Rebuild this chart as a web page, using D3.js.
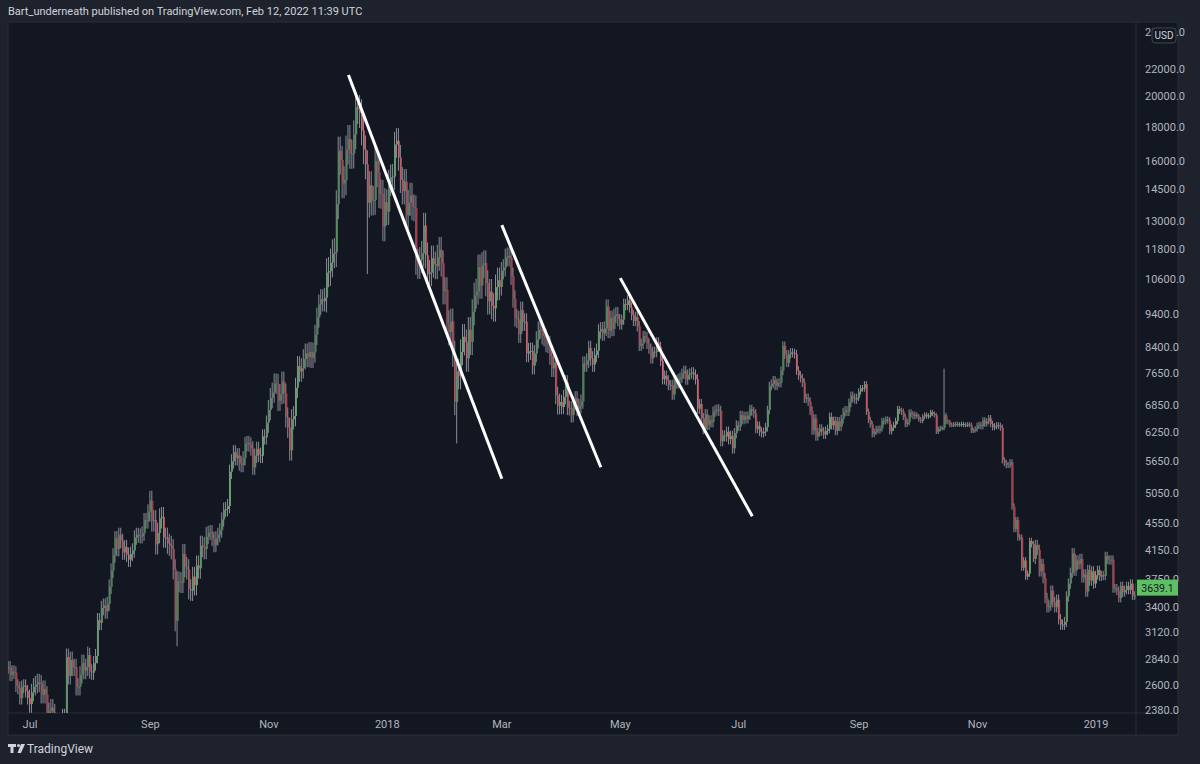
<!DOCTYPE html>
<html><head><meta charset="utf-8">
<script src="https://cdn.jsdelivr.net/npm/d3@7"></script>
<style>body{margin:0;background:#1e222d;}svg{display:block;font-family:Roboto,"Noto Sans",sans-serif;}</style>
</head><body><svg id="c" width="1200" height="764"></svg>
<script>
// daily closes starting 2017-06-20
const startDate = "2017-06-20";
const closes = [
2760,2690,2720,2710,2590,2570,2480,2580,2590,2540,2480,
2430,2530,2580,2600,2620,2610,2510,2560,2510,2330,2370,2400,2360,2230,1970,1930,2230,2320,2270,2860,2680,2830,2760,2760,2580,2580,2690,2800,2730,2760,2880,
2720,2710,2800,2870,3250,3220,3390,3420,3350,3440,3650,3860,4070,4320,4160,4370,4280,4110,4190,4080,4010,4090,4140,4330,4370,4360,4350,4390,4600,4580,4740,
4920,4580,4600,4230,4400,4630,4650,4330,4330,4240,4210,4160,3880,3240,3720,3710,3700,4090,3910,3880,3620,3600,3780,3670,3930,3890,4210,4190,4160,4340,
4400,4410,4310,4220,4320,4370,4440,4610,4770,4780,4830,5440,5640,5820,5700,5760,5600,5570,5700,5990,6010,5980,5900,5520,5750,5890,5770,5750,6150,6130,6450,
6740,7030,7160,7390,7380,6960,7120,7440,7140,6570,6340,5860,6530,6600,7280,7850,7700,7790,8040,8200,8100,8240,8080,8230,8750,9290,9720,9900,9830,9950,
10860,10910,11240,11600,11650,13760,16570,16050,14790,14950,16630,17250,16380,16400,17530,19270,19140,18870,17770,16640,15800,13830,14700,13930,13960,15980,15370,14290,14260,12740,13860,
13410,14840,15120,15150,16930,17150,16180,14980,14400,14880,13240,13840,14190,13630,13580,11280,11120,11350,11600,12780,11530,10800,10850,11410,11170,11110,11440,11750,11210,10180,10220,
9110,8830,9170,8200,6930,7700,7580,8240,8690,8530,8060,8900,8540,9470,10030,10170,11060,10380,11150,11220,10470,9830,10160,9670,9590,10320,10570,10330,
10930,11040,11450,11500,11430,10720,9910,9280,9230,8770,9530,9140,9150,8200,8260,8270,7860,8200,8600,8900,8900,8720,8660,8490,8460,8130,7790,7940,7090,6840,6930,
6810,7050,7420,6790,6780,6620,6900,7020,6770,6830,6940,7920,7890,8000,8360,8060,7890,8160,8280,8850,8920,8790,8940,9650,8870,9280,8930,9350,9400,9240,
9070,9220,9740,9700,9860,9620,9370,9180,9310,9010,8420,8480,8710,8680,8480,8340,8060,8250,8240,8520,8390,7990,7500,7590,7470,7350,7350,7110,7470,7390,7500,
7540,7640,7720,7490,7620,7650,7680,7620,7500,6770,6880,6550,6310,6640,6400,6500,6460,6700,6730,6750,6720,6050,6170,6150,6250,6090,6160,5900,6220,6390,
6360,6620,6510,6600,6530,6610,6760,6710,6660,6310,6380,6250,6220,6250,6350,6740,7320,7380,7470,7330,7410,7400,7720,8420,8170,7940,8180,8230,8210,8180,7730,
7600,7530,7410,7010,7030,6940,6720,6280,6540,6150,6240,6320,6260,6190,6270,6310,6580,6390,6490,6270,6480,6360,6530,6690,6730,6700,6910,7080,7030,6990,7030,
7190,7270,7260,7370,6700,6510,6410,6200,6250,6310,6280,6320,6490,6480,6520,6500,6260,6340,6400,6490,6760,6720,6700,6580,6420,6460,6680,6640,6600,6630,
6590,6520,6490,6590,6630,6590,6610,6690,6650,6620,6250,6310,6330,6330,6620,6470,6460,6400,6400,6410,6420,6410,6410,6420,6400,6400,6410,6400,6270,6280,6320,
6380,6400,6370,6500,6430,6480,6550,6420,6350,6370,6390,6380,6340,5660,5610,5570,5570,5620,4820,4460,4600,4330,4330,3900,4000,3780,3820,4280,4230,4020,
4220,4150,3850,3950,3760,3510,3400,3420,3600,3460,3400,3490,3260,3200,3200,3230,3530,3690,3830,4100,3860,4000,3950,4020,3770,3810,3590,3870,3730,3850,3690,
3800,3870,3780,3800,3790,4060,4010,4000,4010,3630,3630,3600,3510,3660,3580,3610,3660,3610,3690,3540,3540,3639
];
// typical wick size per month (fraction), Jun 2017 .. Jan 2019
const monthVol = [0.022,0.03,0.025,0.035,0.025,0.035,0.05,0.045,0.045,0.03,0.025,0.018,0.018,0.015,0.015,0.011,0.008,0.011,0.018,0.015];
// notable wick extremes
const specialDates = ["2017-09-15","2017-12-22","2018-02-06","2018-10-15","2017-12-17"];
const specialLow =   [2970,10800,6000,null,null];
const specialHigh =  [null,null,null,7780,19800];
const yTicks = [25000,22000,20000,18000,16000,14500,13000,11800,10600,9400,8400,7650,6850,6250,5650,5050,4550,4150,3750,3400,3120,2840,2600,2380];
const xTickDates = ["2017-07-01","2017-09-01","2017-11-01","2018-01-01","2018-03-01","2018-05-01","2018-07-01","2018-09-01","2018-11-01","2019-01-01"];
const xTickLabels = ["Jul","Sep","Nov","2018","Mar","May","Jul","Sep","Nov","2019"];
const trendLines = [
 {d1:"2017-12-12",p1:21550,d2:"2018-03-01",p2:5310},
 {d1:"2018-03-01",p1:12800,d2:"2018-04-21",p2:5525},
 {d1:"2018-05-01",p1:10650,d2:"2018-07-08",p2:4660}
];
const lastPrice = 3639.1;

const P = d3.timeParse("%Y-%m-%d");
const svg = d3.select("#c");
const L=8,R=1136,T=22,B=713;
svg.append("rect").attr("width",1200).attr("height",764).attr("fill","#1e222d");
svg.append("rect").attr("x",L).attr("y",T).attr("width",1170).attr("height",713).attr("fill","#131722").attr("stroke","#2a2e39");
svg.append("line").attr("x1",R).attr("x2",R).attr("y1",T).attr("y2",735).attr("stroke","#2a2e39");
svg.append("line").attr("x1",L).attr("x2",1178).attr("y1",B).attr("y2",B).attr("stroke","#2a2e39");
svg.append("text").attr("x",8).attr("y",15).attr("fill","#d1d4dc").attr("font-size",11).text("Bart_underneath published on TradingView.com, Feb 12, 2022 11:39 UTC");

const x = d3.scaleTime().domain([P("2017-07-01"),P("2019-01-01")]).range([30,1096]);
const y = d3.scaleLog().domain([2380,22000]).range([710,69]);

const s0 = P(startDate);
const data = closes.map((c,i)=>{
  const d = d3.timeDay.offset(s0,i);
  const o = i? closes[i-1] : c;
  const mi = (d.getFullYear()-2017)*12 + d.getMonth() - 5;
  const v = monthVol[mi];
  let h = Math.max(o,c)*(1+v), l = Math.min(o,c)*(1-v);
  const k = specialDates.indexOf(d3.timeFormat("%Y-%m-%d")(d));
  if(k>=0){ if(specialLow[k]) l=specialLow[k]; if(specialHigh[k]) h=specialHigh[k]; }
  return {d,o,c,h,l};
});

svg.append("clipPath").attr("id","pc").append("rect").attr("x",L).attr("y",T).attr("width",R-L).attr("height",B-T);
const g = svg.append("g").attr("clip-path","url(#pc)");
const cg = g.selectAll("g.c").data(data).join("g");
cg.append("line").attr("x1",d=>x(d.d)-0.5).attr("x2",d=>x(d.d)-0.5)
  .attr("y1",d=>y(d.h)).attr("y2",d=>y(d.l)).attr("stroke","#8a8d96").attr("stroke-width",1);
cg.append("rect").attr("x",d=>x(d.d)).attr("width",1)
  .attr("y",d=>y(Math.max(d.o,d.c))).attr("height",d=>Math.max(1,Math.abs(y(d.o)-y(d.c))))
  .attr("fill",d=>d.c>=d.o?"#4caf50":"#f23645");

g.selectAll("line.t").data(trendLines).join("line")
  .attr("x1",d=>x(P(d.d1))).attr("y1",d=>y(d.p1)).attr("x2",d=>x(P(d.d2))).attr("y2",d=>y(d.p2))
  .attr("stroke","#ffffff").attr("stroke-width",3);

svg.append("g").selectAll("text").data(yTicks).join("text")
  .attr("x",1145).attr("y",d=>y(d)+4).attr("fill","#b2b5be").attr("font-size",11).text(d=>d.toFixed(1));
svg.append("g").selectAll("text").data(xTickDates).join("text")
  .attr("x",d=>x(P(d))).attr("y",728).attr("text-anchor","middle").attr("fill","#b2b5be").attr("font-size",11)
  .text((d,i)=>xTickLabels[i]);

// USD badge
svg.append("rect").attr("x",1152).attr("y",28).attr("width",24).attr("height",15).attr("rx",3).attr("fill","#131722").attr("stroke","#434651");
svg.append("text").attr("x",1164).attr("y",39).attr("text-anchor","middle").attr("fill","#d1d4dc").attr("font-size",10).text("USD");
// last price
svg.append("rect").attr("x",1137).attr("y",y(lastPrice)-8).attr("width",41).attr("height",16).attr("fill","#5fbf63");
svg.append("text").attr("x",1157.5).attr("y",y(lastPrice)+4).attr("text-anchor","middle").attr("fill","#131722").attr("font-size",10.5).text(lastPrice.toFixed(1));

// footer logo
const f = svg.append("g").attr("transform","translate(8,744)");
f.append("path").attr("d","M0 0h8v3h-2.5v6h-3v-6h-2.5z").attr("fill","#d1d4dc");
f.append("circle").attr("cx",10.5).attr("cy",1.5).attr("r",1.5).attr("fill","#d1d4dc");
f.append("path").attr("d","M13 0h4l-4 9h-3.5z").attr("fill","#d1d4dc");
f.append("text").attr("x",19).attr("y",9).attr("fill","#d1d4dc").attr("font-size",12).text("TradingView");
</script></body></html>
